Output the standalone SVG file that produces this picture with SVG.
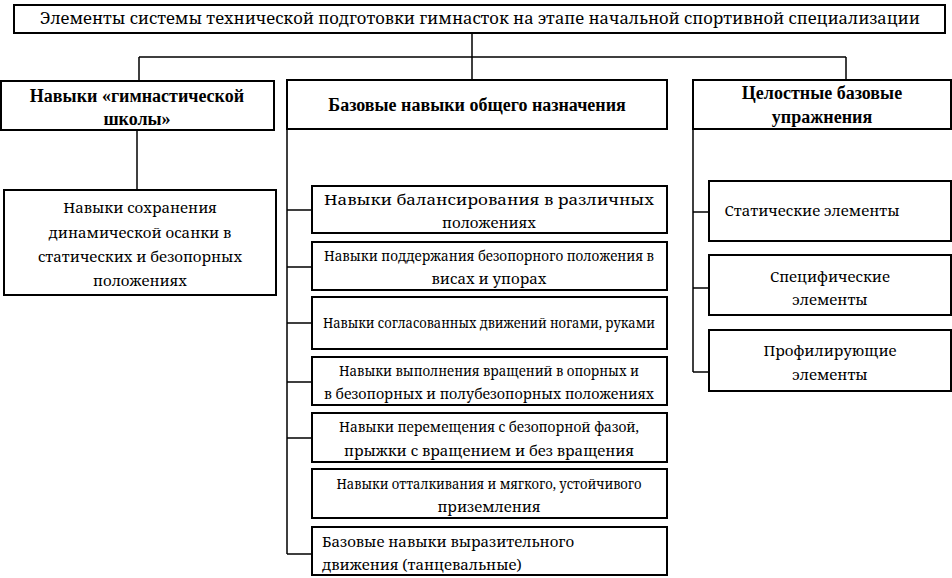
<svg xmlns="http://www.w3.org/2000/svg" width="952" height="578" viewBox="0 0 952 578">
<style>
.box{fill:#fff;stroke:#000;stroke-width:2}
.ln{fill:none;stroke:#000;stroke-width:1.5}
text{fill:#000;text-anchor:middle}
</style>
<rect width="952" height="578" fill="#fff"/>
<g id="connectors">
<path class="ln" d="M472,33 V57 M139,57 H846 M139,57 V81 M472,57 V80 M846,57 V80"/>
<path class="ln" d="M137,130 V190"/>
<path class="ln" d="M287,129 V554 M287,210 H312 M287,267 H312 M287,323 H312 M287,382 H312 M287,438 H312 M287,554 H312"/>
<path class="ln" d="M693,129 V372 M693,212 H709 M693,288 H709 M693,372 H709"/>
</g>
<g id="title">
<rect class="box" x="14" y="5" width="931" height="28"/>
<text font-family="Noto Serif, DejaVu Serif, serif" font-size="16" x="480" y="24" textLength="880" lengthAdjust="spacingAndGlyphs">Элементы системы технической подготовки гимнасток на этапе начальной спортивной специализации</text>
</g>
<g id="school" font-family="Liberation Serif, serif" font-size="18" font-weight="bold">
<rect class="box" x="1" y="81" width="273" height="49"/>
<text x="137" y="102">Навыки «гимнастической</text>
<text x="137" y="125">школы»</text>
</g>
<g id="school-1" font-family="Noto Serif, DejaVu Serif, serif" font-size="15">
<rect class="box" x="4" y="190" width="272" height="105"/>
<text x="140" y="213">Навыки сохранения</text>
<text x="140" y="238">динамической осанки в</text>
<text x="140" y="262">статических и безопорных</text>
<text x="140" y="286">положениях</text>
</g>
<g id="base" font-family="Liberation Serif, serif" font-size="18" font-weight="bold">
<rect class="box" x="287" y="80" width="380" height="49"/>
<text x="477" y="111">Базовые навыки общего назначения</text>
</g>
<g id="base-1" font-family="Noto Serif, DejaVu Serif, serif" font-size="15">
<rect class="box" x="312" y="186" width="355" height="47"/>
<text x="489" y="205" textLength="330" lengthAdjust="spacingAndGlyphs">Навыки балансирования в различных</text>
<text x="489" y="228">положениях</text>
</g>
<g id="base-2" font-family="Noto Serif, DejaVu Serif, serif" font-size="15">
<rect class="box" x="312" y="242" width="355" height="48"/>
<text x="489" y="261" textLength="330" lengthAdjust="spacingAndGlyphs">Навыки поддержания безопорного положения в</text>
<text x="489" y="284">висах и упорах</text>
</g>
<g id="base-3" font-family="Noto Serif, DejaVu Serif, serif" font-size="15">
<rect class="box" x="312" y="297" width="355" height="52"/>
<text x="489" y="328" textLength="332" lengthAdjust="spacingAndGlyphs">Навыки согласованных движений ногами, руками</text>
</g>
<g id="base-4" font-family="Noto Serif, DejaVu Serif, serif" font-size="15">
<rect class="box" x="312" y="357" width="355" height="48"/>
<text x="489" y="376" textLength="300" lengthAdjust="spacingAndGlyphs">Навыки выполнения вращений в опорных и</text>
<text x="489" y="399" textLength="330" lengthAdjust="spacingAndGlyphs">в безопорных и полубезопорных положениях</text>
</g>
<g id="base-5" font-family="Noto Serif, DejaVu Serif, serif" font-size="15">
<rect class="box" x="312" y="413" width="355" height="49"/>
<text x="489" y="432" textLength="300" lengthAdjust="spacingAndGlyphs">Навыки перемещения с безопорной фазой,</text>
<text x="489" y="456">прыжки с вращением и без вращения</text>
</g>
<g id="base-6" font-family="Noto Serif, DejaVu Serif, serif" font-size="15">
<rect class="box" x="312" y="469" width="355" height="49"/>
<text x="489" y="489" textLength="305" lengthAdjust="spacingAndGlyphs">Навыки отталкивания и мягкого, устойчивого</text>
<text x="489" y="512">приземления</text>
</g>
<g id="base-7" font-family="Noto Serif, DejaVu Serif, serif" font-size="15">
<rect class="box" x="312" y="527" width="355" height="48"/>
<text x="322" y="547" style="text-anchor:start">Базовые навыки выразительного</text>
<text x="322" y="570" style="text-anchor:start">движения (танцевальные)</text>
</g>
<g id="whole" font-family="Liberation Serif, serif" font-size="18" font-weight="bold">
<rect class="box" x="693" y="80" width="258" height="49"/>
<text x="822" y="99">Целостные базовые</text>
<text x="822" y="123">упражнения</text>
</g>
<g id="whole-1" font-family="Noto Serif, DejaVu Serif, serif" font-size="15">
<rect class="box" x="709" y="181" width="242" height="60"/>
<text x="812" y="216">Статические элементы</text>
</g>
<g id="whole-2" font-family="Noto Serif, DejaVu Serif, serif" font-size="15">
<rect class="box" x="709" y="255" width="242" height="60"/>
<text x="830" y="282">Специфические</text>
<text x="830" y="305">элементы</text>
</g>
<g id="whole-3" font-family="Noto Serif, DejaVu Serif, serif" font-size="15">
<rect class="box" x="709" y="330" width="242" height="61"/>
<text x="830" y="356">Профилирующие</text>
<text x="830" y="380">элементы</text>
</g>
</svg>
